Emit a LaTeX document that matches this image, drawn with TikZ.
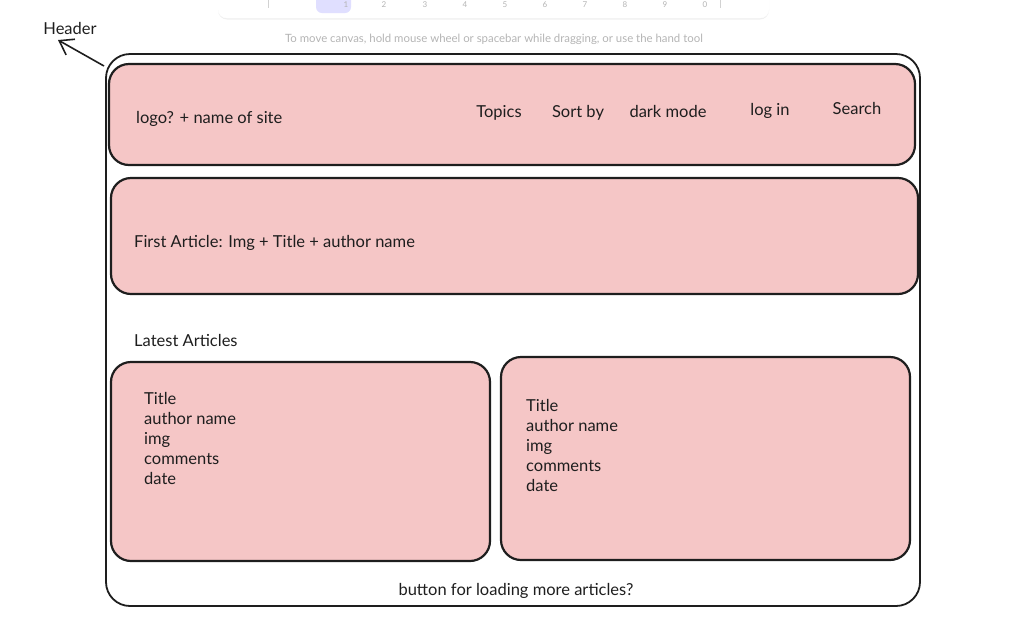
\documentclass[tikz,border=0pt]{standalone}
\usepackage{fontspec}
\setmainfont{Lato}
\usepackage{xcolor}
\usetikzlibrary{positioning}
\usetikzlibrary{arrows.meta}
\usetikzlibrary{shadows}
\definecolor{ink}{HTML}{1E1E1E}
\definecolor{rose}{HTML}{F5C6C6}
\definecolor{hint}{HTML}{B4B4B4}
\definecolor{pick}{HTML}{E0DFFF}

\begin{document}
\begin{tikzpicture}[x=1pt,y=-1pt,
		frame/.style={draw=ink,line width=1.8pt,rounded corners=24pt,minimum width=814pt,minimum height=552pt},
		block/.style={draw=ink,fill=rose,line width=2.2pt,rounded corners=20pt},
		label/.style={text=ink,font=\fontsize{16.5}{20}\selectfont,inner sep=0pt},
		lines/.style={label,align=left,anchor=north west}]
		\useasboundingbox (0,0) rectangle (1017,622);
		% toolbar
		\node[draw=white,fill=white,rounded corners=9pt,minimum width=551pt,minimum height=40pt,drop shadow={opacity=0.12,shadow xshift=0pt,shadow yshift=-1.5pt}] (bar) at (493.5,-2) {};
		\node[fill=pick,rounded corners=6pt,minimum width=35pt,minimum height=30pt] (sel) at (333.5,-2) {};
		\draw[hint!60,line width=0.6pt] (268,-5) -- (268,8);
		\draw[hint!60,line width=0.6pt] (720,-5) -- (720,8);
		\foreach \d/\x in {1/346,2/384,3/425,4/465,5/505,6/545,7/585,8/625,9/665,0/705}
			\node[text=hint,font=\fontsize{8}{8}\selectfont,inner sep=0pt] (key\d) at (\x,5) {\d};
		\node[text=hint,font=\fontsize{11.4}{11}\selectfont,inner sep=0pt] (tip) at (494,39) {To move canvas, hold mouse wheel or spacebar while dragging, or use the hand tool};
		% page
		\node[frame] (page) at (513,330) {};
		\node[block,minimum width=806pt,minimum height=101pt] (header) at (512,114.5) {};
		\node[block,minimum width=807pt,minimum height=116pt] (first) at (514.5,236) {};
		\node[block,minimum width=379pt,minimum height=199pt] (cardA) at (300.5,461.5) {};
		\node[block,minimum width=409pt,minimum height=203pt] (cardB) at (705.5,458.5) {};
		% texts
		\node[label,anchor=west] (site) at (136,119) {logo? + name of site};
		\node[label] (topics) at (499,113) {Topics};
		\node[label] (sort) at (578,113) {Sort by};
		\node[label] (dark) at (668,111) {dark mode};
		\node[label] (login) at (770,111) {log in};
		\node[label] (search) at (857,108) {Search};
		\node[label,anchor=west] (firsttxt) at (134,243) {First Article: Img + Title + author name};
		\node[label,anchor=west] (latest) at (134,340) {Latest Articles};
		\node[lines] (infoA) at (144,392) {Title\\author name\\img\\comments\\date};
		\node[lines] (infoB) at (526,399) {Title\\author name\\img\\comments\\date};
		\node[label] (more) at (516,591) {button for loading more articles?};
		\node[label] (hdr) at (70,28) {Header};
		\coordinate (tail) at (104,66);
		\coordinate (point) at (58,40);
		\draw[ink,line width=1.6pt,-{Straight Barb[length=13pt,width=18pt]}] (tail) -- (point);
\end{tikzpicture}
\end{document}
